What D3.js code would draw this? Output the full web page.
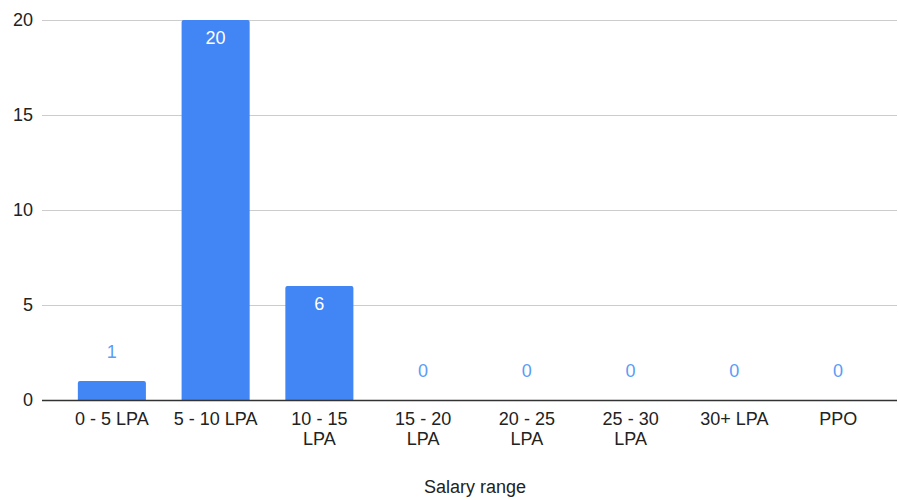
<!DOCTYPE html>
<html>
<meta charset="utf-8">
<script src="https://d3js.org/d3.v7.min.js"></script>
<head>
<style>
body { margin: 0; background: #fff; }
text { font-family: Arial, "Liberation Sans", sans-serif; }
</style>
</head>
<body>
<div id="chart"></div>
<script>

// salary ranges and number of students in each
var categories = ["0 - 5 LPA", "5 - 10 LPA", "10 - 15 LPA", "15 - 20 LPA", "20 - 25 LPA", "25 - 30 LPA", "30+ LPA", "PPO"]
var counts = [1, 20, 6, 0, 0, 0, 0, 0]
var yTicks = [0, 5, 10, 15, 20]

var width = 898
    height = 500

var plotLeft = 42, plotRight = 897
var svg = d3.select("#chart")
  .append("svg")
    .attr("width", width)
    .attr("height", height)

var x = d3.scaleBand()
  .domain(categories)
  .range([60, 890])
  .paddingInner(0.344)
  .paddingOuter(0.172)

var y = d3.scaleLinear()
  .domain([0, 20])
  .range([400, 20])

// gridlines
svg.selectAll('grid')
  .data(yTicks.filter(function(d){ return d > 0 }))
  .enter()
  .append('line')
    .attr('x1', plotLeft)
    .attr('x2', plotRight)
    .attr('y1', function(d){ return y(d) + 0.5 })
    .attr('y2', function(d){ return y(d) + 0.5 })
    .attr('stroke', '#cccccc')
    .attr('stroke-width', 1)

// y tick labels
svg.selectAll('ylab')
  .data(yTicks)
  .enter()
  .append('text')
    .attr('x', 33)
    .attr('y', function(d){ return y(d) })
    .attr('dy', '0.35em')
    .attr('text-anchor', 'end')
    .style('font-size', '18px')
    .style('fill', '#222')
    .text(function(d){ return d })

// bars with rounded top
svg.selectAll('bars')
  .data(counts)
  .enter()
  .append('path')
    .attr('fill', '#4285f4')
    .attr('d', function(d, i) {
      var x0 = x(categories[i]), w = x.bandwidth()
      var y0 = y(d), b = y(0)
      if (d === 0) return ''
      var r = 2
      return 'M' + x0 + ',' + b + 'V' + (y0 + r) + 'Q' + x0 + ',' + y0 + ' ' + (x0 + r) + ',' + y0 +
        'H' + (x0 + w - r) + 'Q' + (x0 + w) + ',' + y0 + ' ' + (x0 + w) + ',' + (y0 + r) + 'V' + b + 'Z'
    })

// baseline
svg.append('line')
  .attr('x1', plotLeft)
  .attr('x2', plotRight)
  .attr('y1', y(0) + 0.5)
  .attr('y2', y(0) + 0.5)
  .attr('stroke', '#333')
  .attr('stroke-width', 1.3)

// value labels: inside for tall bars, above otherwise
svg.selectAll('vals')
  .data(counts)
  .enter()
  .append('text')
    .attr('x', function(d, i){ return x(categories[i]) + x.bandwidth() / 2 })
    .attr('y', function(d){
      var h = y(0) - y(d)
      return h > 40 ? y(d) + 24 : y(d) - 23
    })
    .attr('text-anchor', 'middle')
    .style('font-size', '18px')
    .style('fill', function(d){ return (y(0) - y(d)) > 40 ? '#ffffff' : '#5b9cf6' })
    .text(function(d){ return d })

// x tick labels, wrapped
var xl = svg.selectAll('xlab')
  .data(categories)
  .enter()
  .append('text')
    .attr('text-anchor', 'middle')
    .style('font-size', '18px')
    .style('fill', '#222')
    .attr('transform', function(d){ return 'translate(' + (x(d) + x.bandwidth() / 2) + ',425)' })

xl.each(function(d) {
  var t = d3.select(this)
  var words = d.split(' ')
  var line = [], lines = []
  var tmp = t.append('tspan')
  words.forEach(function(w) {
    var test = line.concat([w]).join(' ')
    tmp.text(test)
    if (tmp.node().getComputedTextLength() > 90 && line.length) {
      lines.push(line.join(' '))
      line = [w]
    } else {
      line.push(w)
    }
  })
  lines.push(line.join(' '))
  tmp.remove()
  lines.forEach(function(l, k) {
    t.append('tspan').attr('x', 0).attr('y', k * 20).text(l)
  })
})

// axis title
svg.append('text')
  .attr('x', 475)
  .attr('y', 493)
  .attr('text-anchor', 'middle')
  .style('font-size', '18px')
  .style('fill', '#222')
  .text('Salary range')

</script>
</body>
</html>
